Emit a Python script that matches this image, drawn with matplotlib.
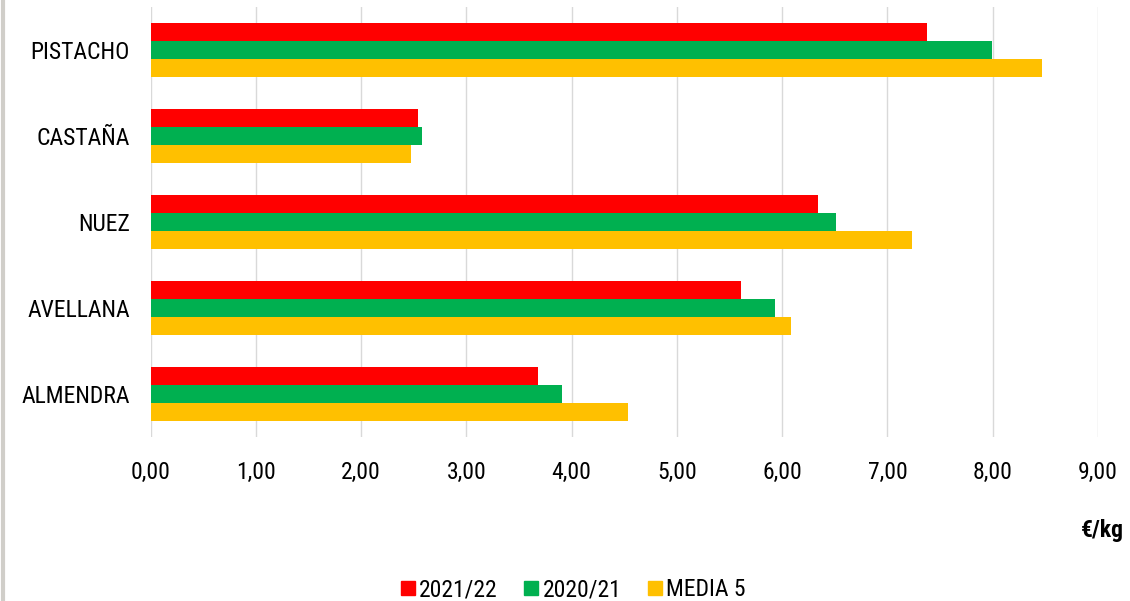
import matplotlib.pyplot as plt
import numpy as np
from matplotlib import font_manager
from matplotlib.lines import Line2D

categories = ["PISTACHO", "CASTAÑA", "NUEZ", "AVELLANA", "ALMENDRA"]
series_names = ["2021/22", "2020/21", "MEDIA 5"]
values_2122 = [7.38, 2.54, 6.34, 5.61, 3.68]
values_2021 = [7.99, 2.58, 6.51, 5.93, 3.91]
values_media5 = [8.47, 2.47, 7.23, 6.08, 4.54]
colors = ["#FF0000", "#00B050", "#FFC000"]
xticks = np.arange(0, 10, 1)

# pick the narrowest installed family available
installed = {f.name for f in font_manager.fontManager.ttflist}
narrow = [n for n in ["Liberation Sans Narrow", "Roboto Condensed", "Open Sans Condensed"] if n in installed]
if narrow:
    family, fs = narrow[0], 17
else:
    family, fs = "Liberation Sans", 14
plt.rcParams["font.family"] = [family, "DejaVu Sans"]

fig = plt.figure(figsize=(11.30, 6.01), dpi=100)
ax = fig.add_axes([0.1332, 0.273, 0.9717 - 0.1332, 0.988 - 0.273])

y = np.arange(len(categories))
h = 0.209
for offset, vals, color, name in zip((-h, 0, h), (values_2122, values_2021, values_media5), colors, series_names):
    ax.barh(y + offset, vals, height=h, color=color, label=name, linewidth=0, zorder=2)

ax.set_xlim(0, 9)
ax.set_ylim(len(categories) - 0.5, -0.5)
ax.set_xticks(xticks)
ax.set_xticklabels([f"{v:.2f}".replace(".", ",") for v in xticks], fontsize=fs)
ax.set_yticks(y)
ax.set_yticklabels(categories, fontsize=fs)
ax.tick_params(axis="both", length=0)
ax.tick_params(axis="x", pad=17)
ax.tick_params(axis="y", pad=15)
ax.grid(axis="x", color="#D9D9D9", linewidth=1, zorder=0)
for side in ["top", "right", "bottom", "left"]:
    ax.spines[side].set_visible(False)

fig.text(1124 / 1130, 1 - 530 / 601, "€/kg", ha="right", va="center", fontsize=fs, fontweight="bold")

handles = [Line2D([], [], marker="s", linestyle="none", markersize=10, markerfacecolor=c, markeredgecolor=c) for c in colors]
fig.legend(handles, series_names, loc="center", bbox_to_anchor=(572 / 1130, 1 - 590 / 601), ncol=3, frameon=False,
           fontsize=fs, handletextpad=0.1, columnspacing=1.0, handlelength=0.8)

# thin grey border on the left edge of the screenshot
fig.add_artist(Line2D([0.003, 0.003], [0, 1], color="#D0CEC9", linewidth=3, transform=fig.transFigure))

fig.savefig("out.png", dpi=100)
